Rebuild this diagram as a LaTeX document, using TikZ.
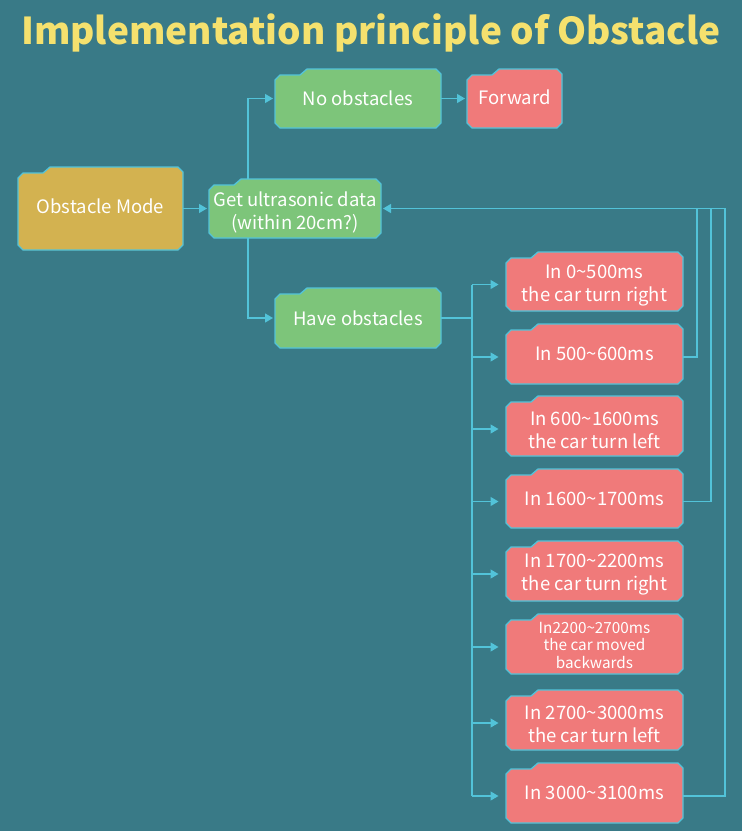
\documentclass[tikz,border=0pt]{standalone}
\usepackage{fontspec}
\setmainfont{Noto Sans CJK SC}
\usetikzlibrary{arrows.meta,calc}
\definecolor{bgc}{HTML}{397A87}
\definecolor{titlec}{HTML}{F5E16E}
\definecolor{edgec}{HTML}{52C3D9}
\definecolor{mustard}{HTML}{D3B250}
\definecolor{greenc}{HTML}{7DC57A}
\definecolor{redc}{HTML}{F07A7A}
\newcommand\tl{\textasciitilde}
% name, x1, y1, x2, y2, fill, text style, text
\newcommand\tabnode[8]{%
  \filldraw[boxedge, fill=#6] (#2,#5-5) -- (#2,#3+11) -- (#2+5,#3+6) -- (#2+25,#3+6) -- (#2+32,#3) -- (#4-5,#3) -- (#4,#3+5) -- (#4,#5-5) -- (#4-5,#5) -- (#2+5,#5) -- cycle;
  \node[boxarea, minimum width={(#4-#2)*1pt}, minimum height={(#5-#3)*1pt}] (#1) at ({(#2+#4)/2},{(#3+#5)/2}) {};%
  \node[boxtext, #7] (#1t) at (#1.center) {#8};%
}
\tikzset{
  boxedge/.style={draw=edgec, line width=1.3pt, line join=miter},
  boxarea/.style={inner sep=0pt, outer sep=0pt},
  boxtext/.style={inner sep=0pt, text=white, align=center, font=\fontsize{18.5}{23}\selectfont},
  one/.style={},
  two/.style={yshift=-4pt},
  small/.style={font=\fontsize{15.3}{17.5}\selectfont, yshift=-1pt},
  ln/.style={draw=edgec, line width=1.3pt},
  arr/.style={ln, -{Triangle[length=8pt,width=9pt]}, shorten >=2pt},
  rarr/.style={arr, shorten >=7.5pt},
}
\begin{document}
\begin{tikzpicture}[x=1pt,y=-1pt]
\fill[bgc] (0,0) rectangle (742,831);
\useasboundingbox (0,0) rectangle (742,831);
\node[text=titlec, font=\fontsize{37}{40}\selectfont\bfseries] (title) at (371,33) {Implementation principle of Obstacle};

\tabnode{om}{18}{167}{183}{250}{mustard}{yshift=2pt}{Obstacle Mode}
\tabnode{gu}{209}{179}{381}{238}{greenc}{two}{Get ultrasonic data\\(within 20cm?)}
\tabnode{no}{275}{69}{441}{128}{greenc}{one}{No obstacles}
\tabnode{fw}{467}{69}{562}{128}{redc}{yshift=1pt}{Forward}
\tabnode{ho}{275}{288}{441}{348}{greenc}{one}{Have obstacles}
\tabnode{r1}{506}{252}{683}{311}{redc}{two}{In 0\tl500ms\\the car turn right}
\tabnode{r2}{506}{324}{683}{384}{redc}{one}{In 500\tl600ms}
\tabnode{r3}{506}{396}{683}{456}{redc}{two}{In 600\tl1600ms\\the car turn left}
\tabnode{r4}{506}{469}{683}{528}{redc}{one}{In 1600\tl1700ms}
\tabnode{r5}{506}{541}{683}{601}{redc}{two}{In 1700\tl2200ms\\the car turn right}
\tabnode{r6}{506}{614}{683}{674}{redc}{small}{In2200\tl2700ms\\the car moved\\backwards}
\tabnode{r7}{506}{690}{683}{750}{redc}{two}{In 2700\tl3000ms\\the car turn left}
\tabnode{r8}{506}{763}{683}{823}{redc}{one}{In 3000\tl3100ms}

\coordinate (jx) at (248,0);
\coordinate (bus) at (472,0);
\coordinate (f1) at (697,0);
\coordinate (f2) at (711,0);
\coordinate (f3) at (725,0);

\draw[arr] (om.east) -- (gu.west);
\draw[arr] (gu.north -| jx) |- (no.west);
\draw[arr] (gu.south -| jx) |- (ho.west);
\draw[arr] (no.east) -- (fw.west);
\draw[ln] (ho.east) -- (ho.east -| bus);
\draw[ln] (bus |- r1.west) ++(0,3) -- (bus |- r8.west) -- ++(0,3);
\foreach \r in {r1,r2,r3,r4,r5,r6,r7,r8}{
  \draw[rarr] ([yshift=-3pt]bus |- \r.west) -- ([yshift=-3pt]\r.west);
}
\draw[ln] ([yshift=-3pt]r2.east) -| (f1 |- gu.east);
\draw[ln] ([yshift=-3pt]r4.east) -| (f2 |- gu.east);
\draw[arr] ([yshift=-3pt]r8.east) -| (f3 |- gu.east) -- (gu.east);
\end{tikzpicture}
\end{document}
